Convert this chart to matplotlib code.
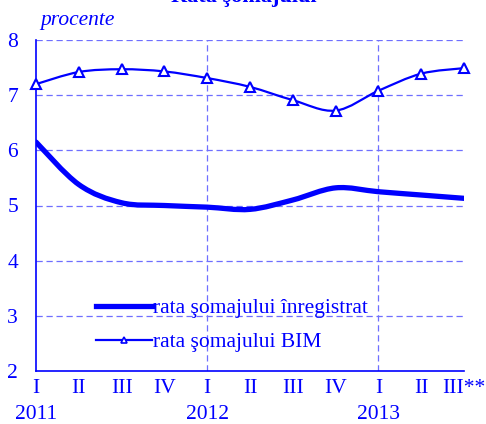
import matplotlib
matplotlib.use("Agg")
import matplotlib.pyplot as plt
from matplotlib.path import Path
from matplotlib.patches import PathPatch
from matplotlib.lines import Line2D

plt.rcParams['font.family'] = ['Liberation Serif', 'DejaVu Serif']

quarters = ['I', 'II', 'III', 'IV', 'I', 'II', 'III', 'IV', 'I', 'II', 'III**']
years = ['2011', '2012', '2013']
year_pos = [0, 4, 8]

registered = [6.15, 5.38, 5.05, 5.0, 4.97, 4.93, 5.1, 5.32, 5.25, 5.19, 5.13]
bim = [7.2, 7.42, 7.47, 7.43, 7.31, 7.15, 6.91, 6.72, 7.08, 7.39, 7.49]

blue = '#0000ff'
grid_blue = '#6f6fff'
fs = 15.5


def smooth_path(xs, ys):
    # Catmull-Rom through the points, drawn as cubic bezier segments
    pts = list(zip(xs, ys))
    n = len(pts)
    verts = [pts[0]]
    codes = [Path.MOVETO]
    for i in range(n - 1):
        p0 = pts[max(i - 1, 0)]
        p1 = pts[i]
        p2 = pts[i + 1]
        p3 = pts[min(i + 2, n - 1)]
        c1 = (p1[0] + (p2[0] - p0[0]) / 6, p1[1] + (p2[1] - p0[1]) / 6)
        c2 = (p2[0] - (p3[0] - p1[0]) / 6, p2[1] - (p3[1] - p1[1]) / 6)
        verts += [c1, c2, p2]
        codes += [Path.CURVE4] * 3
    return Path(verts, codes)


fig = plt.figure(figsize=(4.86, 4.24), dpi=100)
ax = fig.add_axes([36 / 486, 1 - 371 / 424, 428 / 486, 331 / 424])

x = list(range(len(quarters)))

ax.add_patch(PathPatch(smooth_path(x, registered), fill=False, ec=blue, lw=3.8,
                       capstyle='round', zorder=3))
ax.add_patch(PathPatch(smooth_path(x, bim), fill=False, ec=blue, lw=1.6, zorder=3))
ax.plot(x, bim, ls='none', marker='^', ms=7, mfc='white', mec=blue, mew=1.5,
        zorder=4, clip_on=False)

ax.set_xlim(0, 10)
ax.set_ylim(2, 8)

for yv in range(3, 9):
    ax.axhline(yv, color=grid_blue, lw=0.9, ls=(0, (5, 3)), zorder=1)
for xv in [4, 8]:
    ax.axvline(xv, color=grid_blue, lw=0.9, ls=(0, (5, 3)), zorder=1)

for s in ['top', 'right']:
    ax.spines[s].set_visible(False)
for s in ['left', 'bottom']:
    ax.spines[s].set_color(blue)
    ax.spines[s].set_linewidth(1.2)

ax.set_yticks(range(2, 9))
ax.set_xticks(x)
ax.set_xticklabels(quarters)
ax.tick_params(length=0, colors=blue, labelsize=fs)
ax.tick_params(axis='y', pad=13)
ax.tick_params(axis='x', pad=6)

for xp, yr in zip(year_pos, years):
    ax.annotate(yr, xy=(xp, 2), xycoords='data', xytext=(0, -31.5),
                textcoords='offset points', ha='center', va='center',
                color=blue, fontsize=fs)

fig.text(40 / 486, 1 - 20 / 424, 'procente', color=blue, fontsize=fs,
         style='italic', va='center')
# title is clipped by the top edge in the original
fig.text(244 / 486, 1 - 2 / 424, 'Rata şomajului', color=blue, fontsize=16,
         fontweight='bold', ha='center', va='baseline')

handles = [
    Line2D([], [], color=blue, lw=3.8),
    Line2D([], [], color=blue, lw=1.6, marker='^', ms=5, mfc='white',
           mec=blue, mew=1.2),
]
leg = ax.legend(handles, ['rata şomajului înregistrat', 'rata şomajului BIM'],
                loc='upper left', bbox_to_anchor=(96 / 486, 1 - 298 / 424),
                bbox_transform=fig.transFigure, numpoints=1,
                frameon=False, fontsize=fs, handlelength=2.6, handletextpad=0.05,
                labelspacing=0.65, borderaxespad=0, borderpad=0)
for t in leg.get_texts():
    t.set_color(blue)

fig.savefig('out.png', dpi=100)
